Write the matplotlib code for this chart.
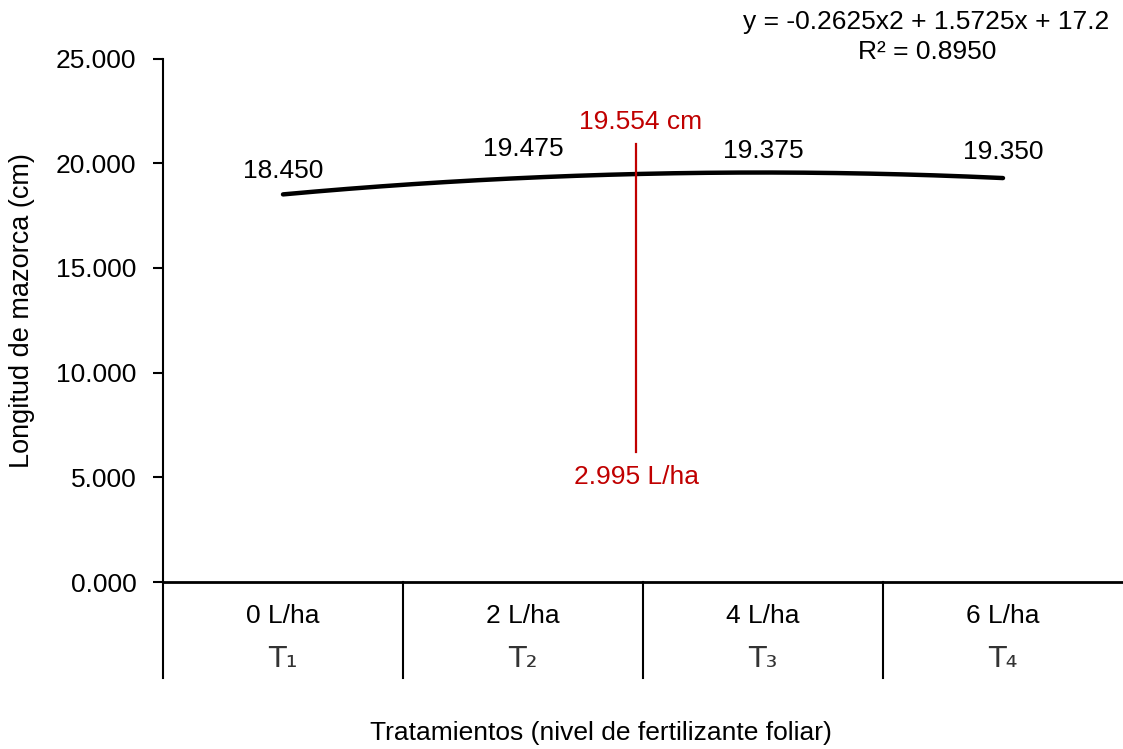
import numpy as np
import matplotlib
matplotlib.use("Agg")
import matplotlib.pyplot as plt
from matplotlib.transforms import blended_transform_factory

plt.rcParams['font.family'] = ['Liberation Sans', 'DejaVu Sans']

# ---- data ----
doses = ["0 L/ha", "2 L/ha", "4 L/ha", "6 L/ha"]
treatments = ["T\u2081", "T\u2082", "T\u2083", "T\u2084"]
longitud = [18.450, 19.475, 19.375, 19.350]
y_ticks = [0, 5, 10, 15, 20, 25]
equation_text = "y = -0.2625x2 + 1.5725x + 17.2"
r2_text = "R\u00b2 = 0.8950"
opt_value_text = "19.554 cm"
opt_dose_text = "2.995 L/ha"
opt_marker_x = 1.47          # position of the red marker on the category axis
opt_marker_y = [6.2, 20.9]   # vertical extent of the red marker (cm)

RED = "#C00000"
FS = 19

fig = plt.figure(figsize=(11.23, 7.49), dpi=100)
W, H = 1123, 749
AX_H = 523.5
ax = fig.add_axes([163 / W, 1 - 582 / H, 960 / W, AX_H / H])

# polynomial trendline (order 2) fitted on the data, x = 1..4
xfit = np.arange(1, len(longitud) + 1)
coef = np.polyfit(xfit, longitud, 2)
xs = np.linspace(1, len(longitud), 200)
ax.plot(xs - 1, np.polyval(coef, xs), color="black", lw=3.2,
        solid_capstyle="round", zorder=3)

# data labels
for i, v in enumerate(longitud):
    ax.annotate(f"{v:.3f}", (i, v), xytext=(0, 18), textcoords="offset points",
                ha="center", va="center", fontsize=FS, color="black")

# red optimum marker
ax.plot([opt_marker_x, opt_marker_x], opt_marker_y, color=RED, lw=1.6, zorder=4)
ax.text(opt_marker_x + 0.02, 21.98, opt_value_text, color=RED,
        fontsize=FS, ha="center", va="center")
ax.text(opt_marker_x + 0.005, 5.0, opt_dose_text, color=RED,
        fontsize=FS, ha="center", va="center")

ax.set_xlim(-0.5, len(longitud) - 0.5)
ax.set_ylim(0, 25)
ax.set_yticks(y_ticks)
ax.set_yticklabels([f"{t:.3f}" for t in y_ticks], fontsize=FS)
ax.tick_params(axis="y", length=7, width=1.5, pad=12, direction="out")
ax.set_xticks([])
for s in ["top", "right"]:
    ax.spines[s].set_visible(False)
ax.spines["left"].set_linewidth(1.5)
ax.spines["bottom"].set_linewidth(2.0)

# category table below the axis
tr = blended_transform_factory(ax.transData, ax.transAxes)
depth = 96 / AX_H
for b in np.arange(-0.5, len(longitud) - 0.5, 1.0):
    ax.plot([b, b], [0, -depth], color="black", lw=1.5, transform=tr,
            clip_on=False)
for i, (d, t) in enumerate(zip(doses, treatments)):
    ax.text(i, -34 / AX_H, d, transform=tr, ha="center", va="center",
            fontsize=FS)
    ax.text(i, -77 / AX_H, t, transform=tr, ha="center", va="center",
            fontsize=FS + 2, color="#333333",
            family=['DejaVu Sans', 'Liberation Sans'])

ax.set_ylabel("Longitud de mazorca (cm)", fontsize=FS + 0.5)
ax.yaxis.set_label_coords(-128 / 960, (582 - 311) / AX_H)
fig.text(601 / W, 1 - 733 / H, "Tratamientos (nivel de fertilizante foliar)",
         ha="center", va="center", fontsize=FS)

fig.text(926 / W, 1 - 22 / H, equation_text, ha="center", va="center", fontsize=FS)
fig.text(927 / W, 1 - 52 / H, r2_text, ha="center", va="center", fontsize=FS)

fig.savefig("out.png", dpi=100, facecolor="white")
